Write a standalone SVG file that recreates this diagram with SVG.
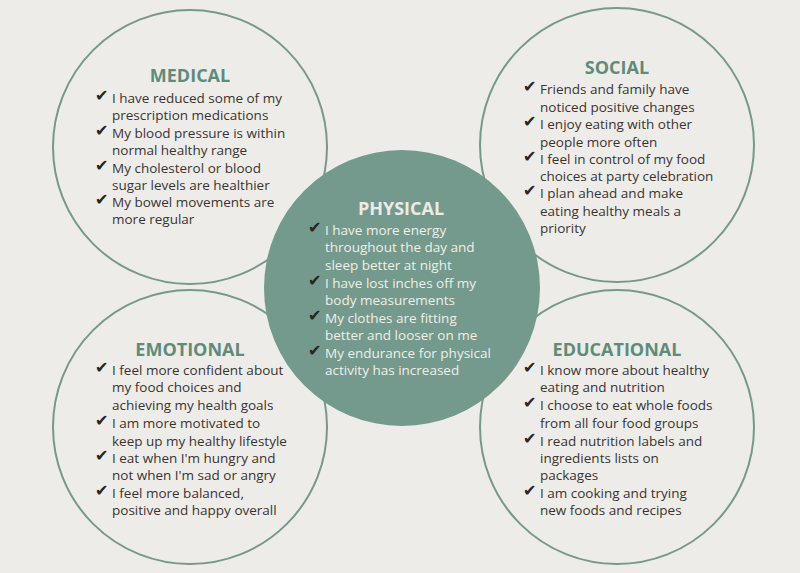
<svg xmlns="http://www.w3.org/2000/svg" width="800" height="573" viewBox="0 0 800 573">
<style>
.bg{fill:#eeece9}
.ring{fill:none;stroke:#76998b;stroke-width:2}
.core{fill:#739a8c}
.title{font-family:"Open Sans","Liberation Sans",sans-serif;font-weight:bold;font-size:18px;fill:#5f8b7a;text-anchor:middle}
.title.light{fill:#eeebe6}
.item{font-family:"Open Sans","Liberation Sans",sans-serif;font-size:13.5px;fill:#3a3431}
.item.light{fill:#f1eee9}
.chk{font-family:"DejaVu Sans",sans-serif;font-size:16px;fill:#2a2422}
</style>
<rect class="bg" x="0" y="0" width="800" height="573"/>
<g id="medical">
<circle class="ring" cx="190" cy="147" r="137"/>
<text class="title" x="190" y="82">MEDICAL</text>
<text class="chk" x="95" y="101">✔</text>
<text class="item" x="112" y="103">I have reduced some of my</text>
<text class="item" x="112" y="120">prescription medications</text>
<text class="chk" x="95" y="136">✔</text>
<text class="item" x="112" y="138">My blood pressure is within</text>
<text class="item" x="112" y="155">normal healthy range</text>
<text class="chk" x="95" y="171">✔</text>
<text class="item" x="112" y="173">My cholesterol or blood</text>
<text class="item" x="112" y="190">sugar levels are healthier</text>
<text class="chk" x="95" y="205">✔</text>
<text class="item" x="112" y="207">My bowel movements are</text>
<text class="item" x="112" y="224">more regular</text>
</g>
<g id="social">
<circle class="ring" cx="617" cy="145" r="137"/>
<text class="title" x="617" y="74">SOCIAL</text>
<text class="chk" x="523" y="92">✔</text>
<text class="item" x="540" y="94">Friends and family have</text>
<text class="item" x="540" y="112">noticed positive changes</text>
<text class="chk" x="523" y="127">✔</text>
<text class="item" x="540" y="129">I enjoy eating with other</text>
<text class="item" x="540" y="147">people more often</text>
<text class="chk" x="523" y="162">✔</text>
<text class="item" x="540" y="164">I feel in control of my food</text>
<text class="item" x="540" y="181">choices at party celebration</text>
<text class="chk" x="523" y="196">✔</text>
<text class="item" x="540" y="198">I plan ahead and make</text>
<text class="item" x="540" y="216">eating healthy meals a</text>
<text class="item" x="540" y="233">priority</text>
</g>
<g id="emotional">
<circle class="ring" cx="190" cy="427" r="137"/>
<text class="title" x="190" y="356">EMOTIONAL</text>
<text class="chk" x="95" y="373">✔</text>
<text class="item" x="112" y="375">I feel more confident about</text>
<text class="item" x="112" y="392">my food choices and</text>
<text class="item" x="112" y="410">achieving my health goals</text>
<text class="chk" x="95" y="426">✔</text>
<text class="item" x="112" y="428">I am more motivated to</text>
<text class="item" x="112" y="446">keep up my healthy lifestyle</text>
<text class="chk" x="95" y="461">✔</text>
<text class="item" x="112" y="463">I eat when I'm hungry and</text>
<text class="item" x="112" y="480">not when I'm sad or angry</text>
<text class="chk" x="95" y="496">✔</text>
<text class="item" x="112" y="498">I feel more balanced,</text>
<text class="item" x="112" y="515">positive and happy overall</text>
</g>
<g id="educational">
<circle class="ring" cx="617" cy="427" r="137"/>
<text class="title" x="617" y="356">EDUCATIONAL</text>
<text class="chk" x="523" y="373">✔</text>
<text class="item" x="540" y="375">I know more about healthy</text>
<text class="item" x="540" y="392">eating and nutrition</text>
<text class="chk" x="523" y="408">✔</text>
<text class="item" x="540" y="410">I choose to eat whole foods</text>
<text class="item" x="540" y="428">from all four food groups</text>
<text class="chk" x="523" y="444">✔</text>
<text class="item" x="540" y="446">I read nutrition labels and</text>
<text class="item" x="540" y="463">ingredients lists on</text>
<text class="item" x="540" y="480">packages</text>
<text class="chk" x="523" y="496">✔</text>
<text class="item" x="540" y="498">I am cooking and trying</text>
<text class="item" x="540" y="515">new foods and recipes</text>
</g>
<g id="physical">
<circle class="core" cx="402" cy="288" r="138"/>
<text class="title light" x="401" y="215">PHYSICAL</text>
<text class="chk" x="308" y="233">✔</text>
<text class="item light" x="325" y="235">I have more energy</text>
<text class="item light" x="325" y="252">throughout the day and</text>
<text class="item light" x="325" y="270">sleep better at night</text>
<text class="chk" x="308" y="286">✔</text>
<text class="item light" x="325" y="288">I have lost inches off my</text>
<text class="item light" x="325" y="305">body measurements</text>
<text class="chk" x="308" y="321">✔</text>
<text class="item light" x="325" y="323">My clothes are fitting</text>
<text class="item light" x="325" y="340">better and looser on me</text>
<text class="chk" x="308" y="356">✔</text>
<text class="item light" x="325" y="358">My endurance for physical</text>
<text class="item light" x="325" y="375">activity has increased</text>
</g>
<g id="connectors"/>
</svg>
